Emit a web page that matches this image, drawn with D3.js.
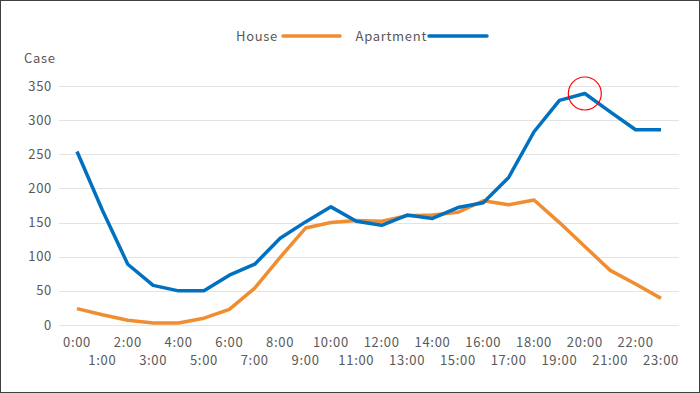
<!DOCTYPE html>
<html lang="en">
<head>
  <meta charset="UTF-8">
  <title>Cases by hour</title>
  <script src="https://d3js.org/d3.v7.min.js"></script>
  <style>
    body { margin: 0; background: #fff; }
    svg { display: block; font-family: "Noto Sans CJK JP", "Noto Sans", sans-serif; }
    .grid line { stroke: #e3e3e3; stroke-width: 1px; }
    .lbl { fill: #595959; font-size: 13px; letter-spacing: 0.7px; }
  </style>
</head>
<body>
  <svg id="chart" width="700" height="393"></svg>
  <script>
    const hours = ["0:00","1:00","2:00","3:00","4:00","5:00","6:00","7:00","8:00","9:00","10:00","11:00",
                   "12:00","13:00","14:00","15:00","16:00","17:00","18:00","19:00","20:00","21:00","22:00","23:00"];
    const house = [24, 15, 7, 3, 3, 10, 23, 54, 99, 142, 150, 153, 152, 160, 161, 165, 182, 176, 183, 150, 115, 80, 60, 39];
    const apartment = [254, 168, 89, 58, 50, 50, 73, 89, 127, 151, 173, 152, 146, 161, 156, 172, 179, 216, 283, 329, 339, 312, 286, 286];
    const yTicks = [0, 50, 100, 150, 200, 250, 300, 350];
    const series = [
      { name: "House", values: house, color: "#F08D30" },
      { name: "Apartment", values: apartment, color: "#0070C0" }
    ];
    const highlight = 20; // index of circled point

    const width = 700, height = 393;
    const svg = d3.select('#chart');

    // outer frame
    svg.append('rect')
      .attr('x', 0.5).attr('y', 0.5)
      .attr('width', width - 1).attr('height', height - 1)
      .attr('fill', '#fff').attr('stroke', '#404040');

    const x = d3.scalePoint().domain(hours).range([77, 661]);
    const y = d3.scaleLinear().domain([0, 350]).range([325, 86]);

    // gridlines
    svg.append('g').attr('class', 'grid')
      .selectAll('line').data(yTicks).join('line')
      .attr('x1', 59).attr('x2', 679)
      .attr('y1', d => Math.round(y(d)) + 0.5).attr('y2', d => Math.round(y(d)) + 0.5);

    // y labels
    svg.append('g').selectAll('text').data(yTicks).join('text')
      .attr('class', 'lbl')
      .attr('x', 52).attr('y', d => y(d))
      .attr('dy', '0.35em')
      .attr('text-anchor', 'end')
      .text(d => d);

    svg.append('text').attr('class', 'lbl')
      .attr('x', 24).attr('y', 63).text('Case');

    // x labels, staggered
    svg.append('g').selectAll('text').data(hours).join('text')
      .attr('class', 'lbl')
      .attr('x', d => x(d))
      .attr('y', (d, i) => i % 2 === 0 ? 347 : 365)
      .attr('text-anchor', 'middle')
      .text(d => d);

    // lines
    const line = d3.line()
      .x((d, i) => x(hours[i]))
      .y(d => y(d));

    series.forEach(s => {
      svg.append('path')
        .datum(s.values)
        .attr('fill', 'none')
        .attr('stroke', s.color)
        .attr('stroke-width', 3.5)
        .attr('stroke-linejoin', 'round')
        .attr('d', line);
    });

    // highlight circle
    svg.append('circle')
      .attr('cx', x(hours[highlight]))
      .attr('cy', y(apartment[highlight]))
      .attr('r', 16.5)
      .attr('fill', 'none')
      .attr('stroke', '#FF0000')
      .attr('stroke-width', 1.2);

    // legend
    const legend = svg.append('g');
    const legendItems = [
      { s: series[0], tx: 278, lx1: 283, lx2: 340 },
      { s: series[1], tx: 427, lx1: 429, lx2: 487 }
    ];
    legendItems.forEach(it => {
      legend.append('text').attr('class', 'lbl')
        .attr('x', it.tx).attr('y', 41)
        .attr('text-anchor', 'end')
        .text(it.s.name);
      legend.append('line')
        .attr('x1', it.lx1).attr('x2', it.lx2)
        .attr('y1', 36).attr('y2', 36)
        .attr('stroke', it.s.color)
        .attr('stroke-width', 3.5)
        .attr('stroke-linecap', 'round');
    });
  </script>
</body>
</html>
